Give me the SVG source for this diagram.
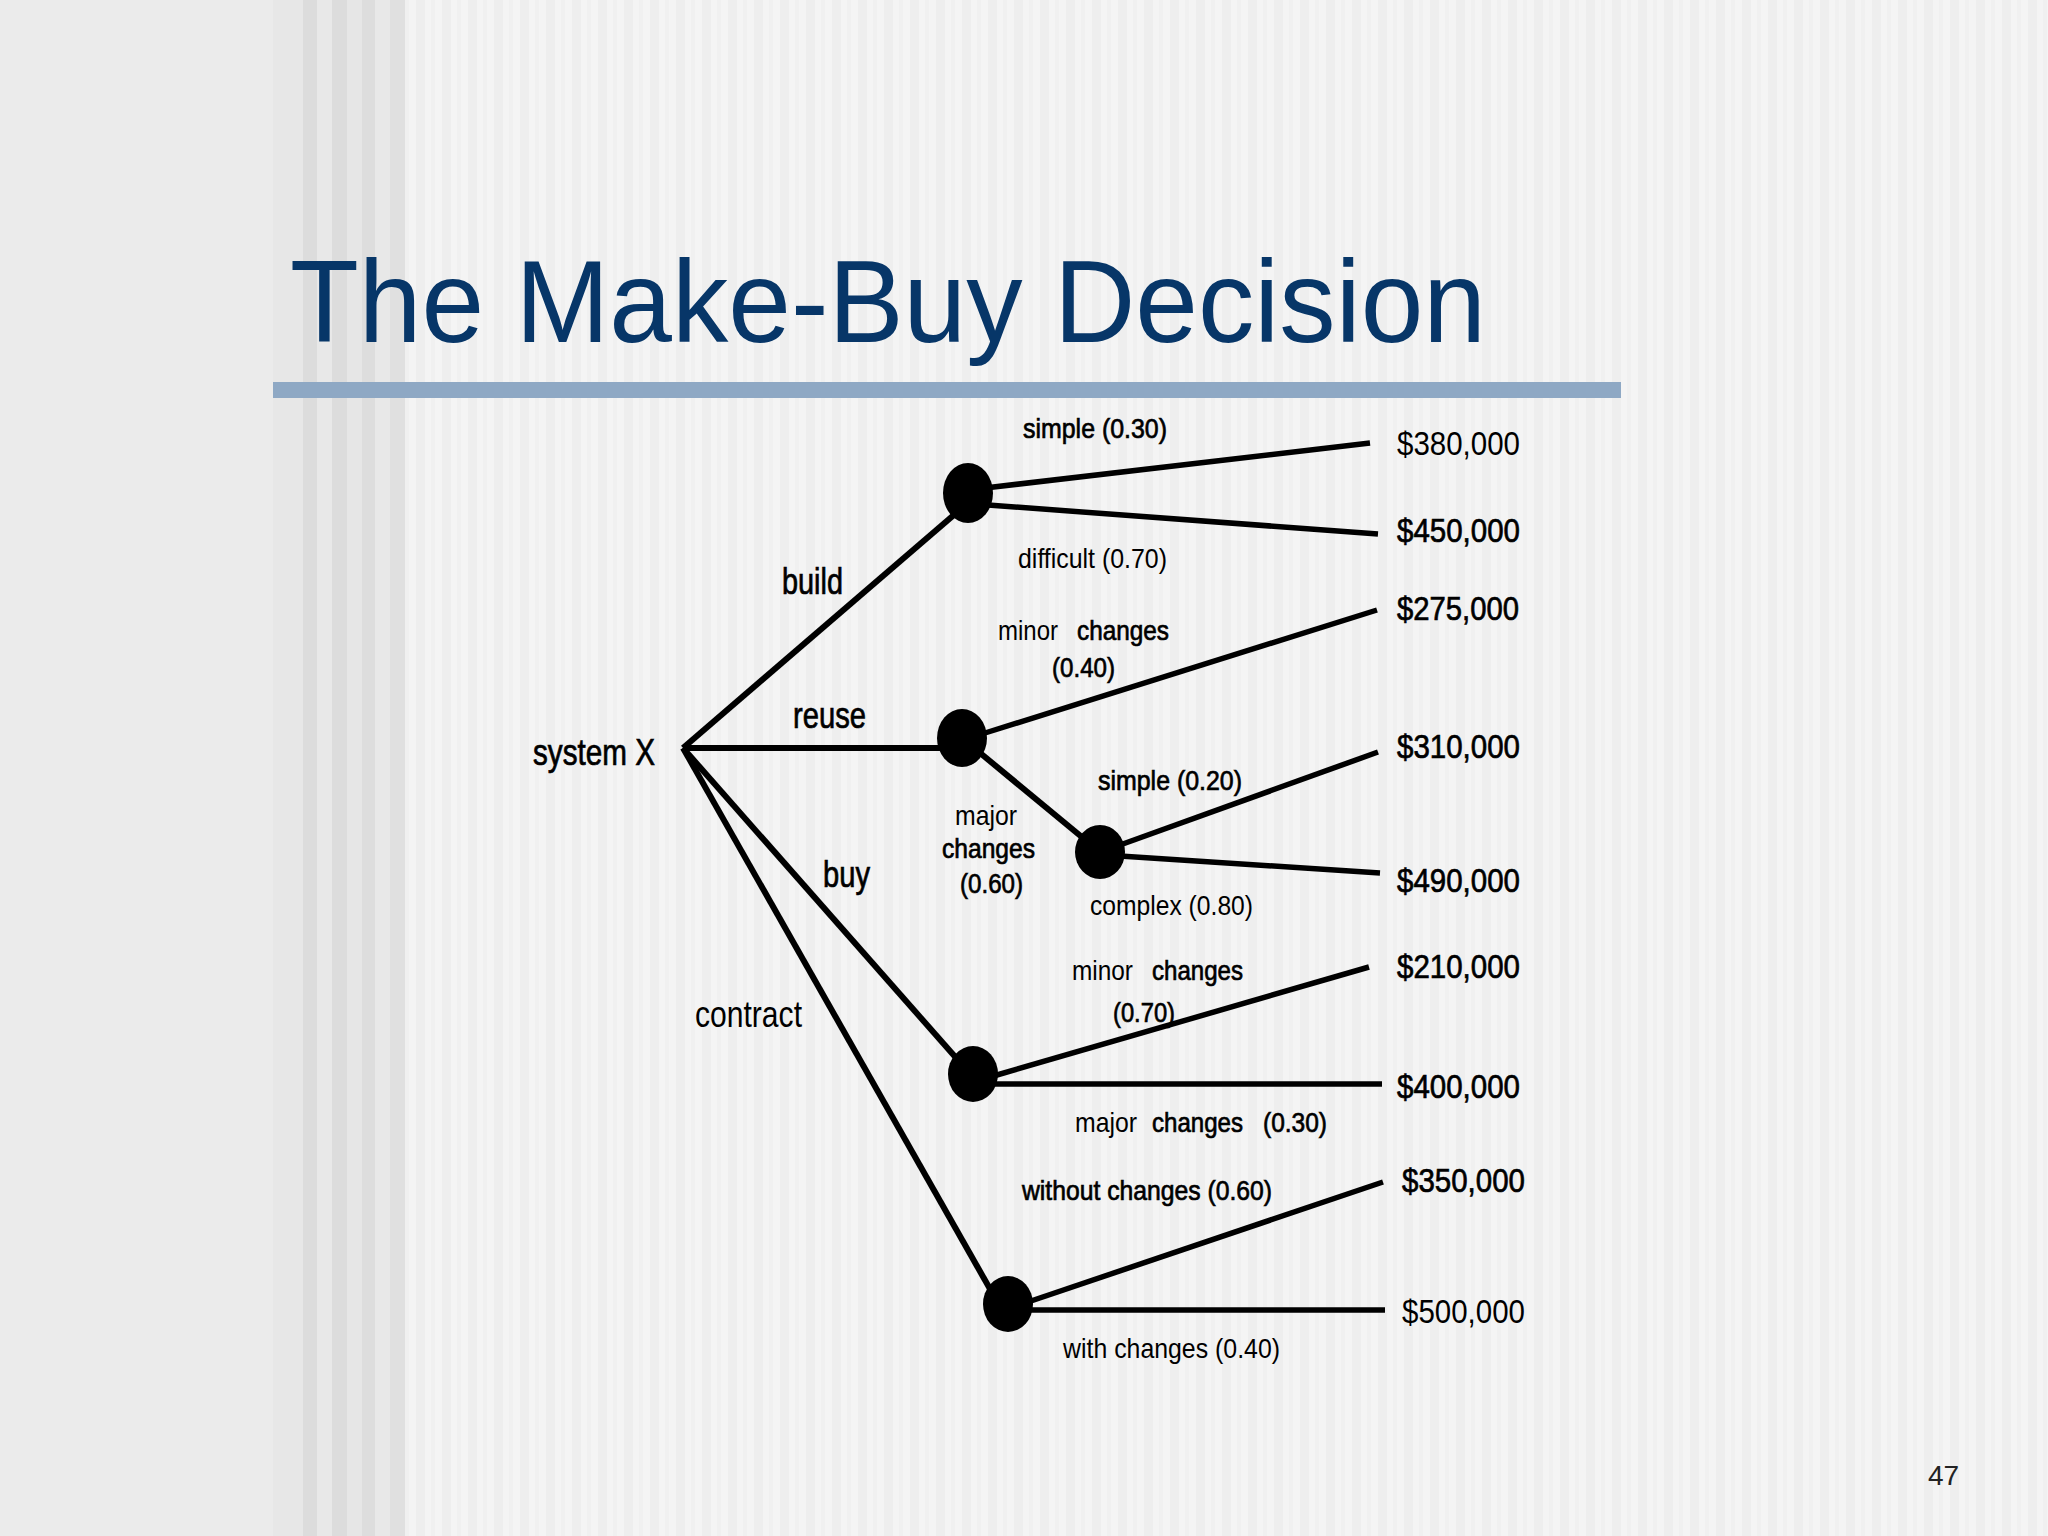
<svg xmlns="http://www.w3.org/2000/svg" width="2048" height="1536" viewBox="0 0 2048 1536">
<defs>
<pattern id="stripes" x="0" y="0" width="26" height="1536" patternUnits="userSpaceOnUse">
<rect x="0" y="0" width="26" height="1536" fill="#f4f4f4"/>
<rect x="0" y="0" width="9" height="1536" fill="#eeeeee"/>
<rect x="15" y="0" width="4" height="1536" fill="#f0f0f0"/>
</pattern>
<style>
.lbl{font-family:"Liberation Sans",Arial,Helvetica,sans-serif;fill:#000;}
.big{font-size:36px;}
.prob{font-size:28px;}
.val{font-size:34px;}
.dbl{stroke:#000;stroke-width:0.7px;}
.edge{stroke:#000;stroke-width:5.5;fill:none;stroke-linecap:butt;}
.main{stroke-width:6;}
.node{fill:#000;}
</style>
</defs>
<g id="background">
<rect x="0" y="0" width="2048" height="1536" fill="url(#stripes)"/>
<rect x="0" y="0" width="273" height="1536" fill="#ebebeb"/>
<rect x="273" y="0" width="30" height="1536" fill="#e7e7e7"/>
<rect x="303" y="0" width="14" height="1536" fill="#dcdcdc"/>
<rect x="317" y="0" width="15" height="1536" fill="#e8e8e8"/>
<rect x="332" y="0" width="15" height="1536" fill="#dcdcdc"/>
<rect x="347" y="0" width="15" height="1536" fill="#e6e6e6"/>
<rect x="362" y="0" width="13" height="1536" fill="#dddddd"/>
<rect x="375" y="0" width="15" height="1536" fill="#e8e8e8"/>
<rect x="390" y="0" width="15" height="1536" fill="#e0e0e0"/>
</g>
<g id="title">
<text x="290" y="342" font-family="Liberation Sans, Arial, sans-serif" font-size="117" fill="#073668" textLength="1196" lengthAdjust="spacingAndGlyphs">The Make-Buy Decision</text>
<rect x="273" y="382" width="1348" height="16" fill="#8ea8c4"/>
</g>
<g id="connectors">
<line class="edge main" x1="683" y1="748" x2="962" y2="508"/>
<line class="edge main" x1="683" y1="748" x2="962" y2="748"/>
<line class="edge main" x1="683" y1="748" x2="965" y2="1068"/>
<line class="edge main" x1="683" y1="748" x2="994" y2="1296"/>
<line class="edge main" x1="962" y1="738" x2="1100" y2="852"/>
<line class="edge" x1="985" y1="488" x2="1370" y2="443"/>
<line class="edge" x1="988" y1="505" x2="1378" y2="534"/>
<line class="edge" x1="985" y1="733" x2="1377" y2="610"/>
<line class="edge" x1="1120" y1="845" x2="1378" y2="752"/>
<line class="edge" x1="1120" y1="856" x2="1380" y2="873"/>
<line class="edge" x1="990" y1="1077" x2="1369" y2="967"/>
<line class="edge" x1="990" y1="1084" x2="1382" y2="1084"/>
<line class="edge" x1="1025" y1="1303" x2="1383" y2="1182"/>
<line class="edge" x1="1025" y1="1310" x2="1385" y2="1310"/>
</g>
<g id="node-root">
<text class="lbl big dbl" x="533" y="765" textLength="122" lengthAdjust="spacingAndGlyphs">system X</text>
</g>
<g id="node-build">
<ellipse class="node" cx="968" cy="493" rx="25" ry="30"/>
<text class="lbl big dbl" x="782" y="594" textLength="61" lengthAdjust="spacingAndGlyphs">build</text>
</g>
<g id="node-reuse">
<ellipse class="node" cx="962" cy="738" rx="25" ry="29"/>
<text class="lbl big dbl" x="793" y="728" textLength="73" lengthAdjust="spacingAndGlyphs">reuse</text>
</g>
<g id="node-major">
<ellipse class="node" cx="1100" cy="852" rx="25" ry="27"/>
<text class="lbl prob" x="955" y="825" textLength="62" lengthAdjust="spacingAndGlyphs">major</text>
<text class="lbl prob dbl" x="942" y="858" textLength="93" lengthAdjust="spacingAndGlyphs">changes</text>
<text class="lbl prob dbl" x="960" y="893" textLength="63" lengthAdjust="spacingAndGlyphs">(0.60)</text>
</g>
<g id="node-buy">
<ellipse class="node" cx="973" cy="1074" rx="25" ry="28"/>
<text class="lbl big dbl" x="823" y="887" textLength="47" lengthAdjust="spacingAndGlyphs">buy</text>
</g>
<g id="node-contract">
<ellipse class="node" cx="1008" cy="1304" rx="25" ry="28"/>
<text class="lbl big" x="695" y="1027" textLength="107" lengthAdjust="spacingAndGlyphs">contract</text>
</g>
<g id="labels-build">
<text class="lbl prob dbl" x="1023" y="438" textLength="144" lengthAdjust="spacingAndGlyphs">simple (0.30)</text>
<text class="lbl prob" x="1018" y="568" textLength="149" lengthAdjust="spacingAndGlyphs">difficult (0.70)</text>
</g>
<g id="labels-reuse">
<text class="lbl prob" x="998" y="640" textLength="60" lengthAdjust="spacingAndGlyphs">minor</text>
<text class="lbl prob dbl" x="1077" y="640" textLength="92" lengthAdjust="spacingAndGlyphs">changes</text>
<text class="lbl prob dbl" x="1052" y="677" textLength="63" lengthAdjust="spacingAndGlyphs">(0.40)</text>
<text class="lbl prob dbl" x="1098" y="790" textLength="144" lengthAdjust="spacingAndGlyphs">simple (0.20)</text>
<text class="lbl prob" x="1090" y="915" textLength="163" lengthAdjust="spacingAndGlyphs">complex (0.80)</text>
</g>
<g id="labels-buy">
<text class="lbl prob" x="1072" y="980" textLength="61" lengthAdjust="spacingAndGlyphs">minor</text>
<text class="lbl prob dbl" x="1152" y="980" textLength="91" lengthAdjust="spacingAndGlyphs">changes</text>
<text class="lbl prob dbl" x="1113" y="1022" textLength="62" lengthAdjust="spacingAndGlyphs">(0.70)</text>
<text class="lbl prob" x="1075" y="1132" textLength="62" lengthAdjust="spacingAndGlyphs">major</text>
<text class="lbl prob dbl" x="1152" y="1132" textLength="91" lengthAdjust="spacingAndGlyphs">changes</text>
<text class="lbl prob dbl" x="1263" y="1132" textLength="64" lengthAdjust="spacingAndGlyphs">(0.30)</text>
</g>
<g id="labels-contract">
<text class="lbl prob dbl" x="1022" y="1200" textLength="250" lengthAdjust="spacingAndGlyphs">without changes (0.60)</text>
<text class="lbl prob" x="1063" y="1358" textLength="217" lengthAdjust="spacingAndGlyphs">with changes (0.40)</text>
</g>
<g id="outcomes">
<text class="lbl val" x="1397" y="455" textLength="123" lengthAdjust="spacingAndGlyphs">$380,000</text>
<text class="lbl val dbl" x="1397" y="542" textLength="123" lengthAdjust="spacingAndGlyphs">$450,000</text>
<text class="lbl val dbl" x="1397" y="620" textLength="122" lengthAdjust="spacingAndGlyphs">$275,000</text>
<text class="lbl val dbl" x="1397" y="758" textLength="123" lengthAdjust="spacingAndGlyphs">$310,000</text>
<text class="lbl val dbl" x="1397" y="892" textLength="123" lengthAdjust="spacingAndGlyphs">$490,000</text>
<text class="lbl val dbl" x="1397" y="978" textLength="123" lengthAdjust="spacingAndGlyphs">$210,000</text>
<text class="lbl val dbl" x="1397" y="1098" textLength="123" lengthAdjust="spacingAndGlyphs">$400,000</text>
<text class="lbl val dbl" x="1402" y="1192" textLength="123" lengthAdjust="spacingAndGlyphs">$350,000</text>
<text class="lbl val" x="1402" y="1323" textLength="123" lengthAdjust="spacingAndGlyphs">$500,000</text>
</g>
<g id="page-number">
<text x="1928" y="1485" font-family="Liberation Sans, Arial, sans-serif" font-size="28" fill="#222">47</text>
</g>
</svg>
